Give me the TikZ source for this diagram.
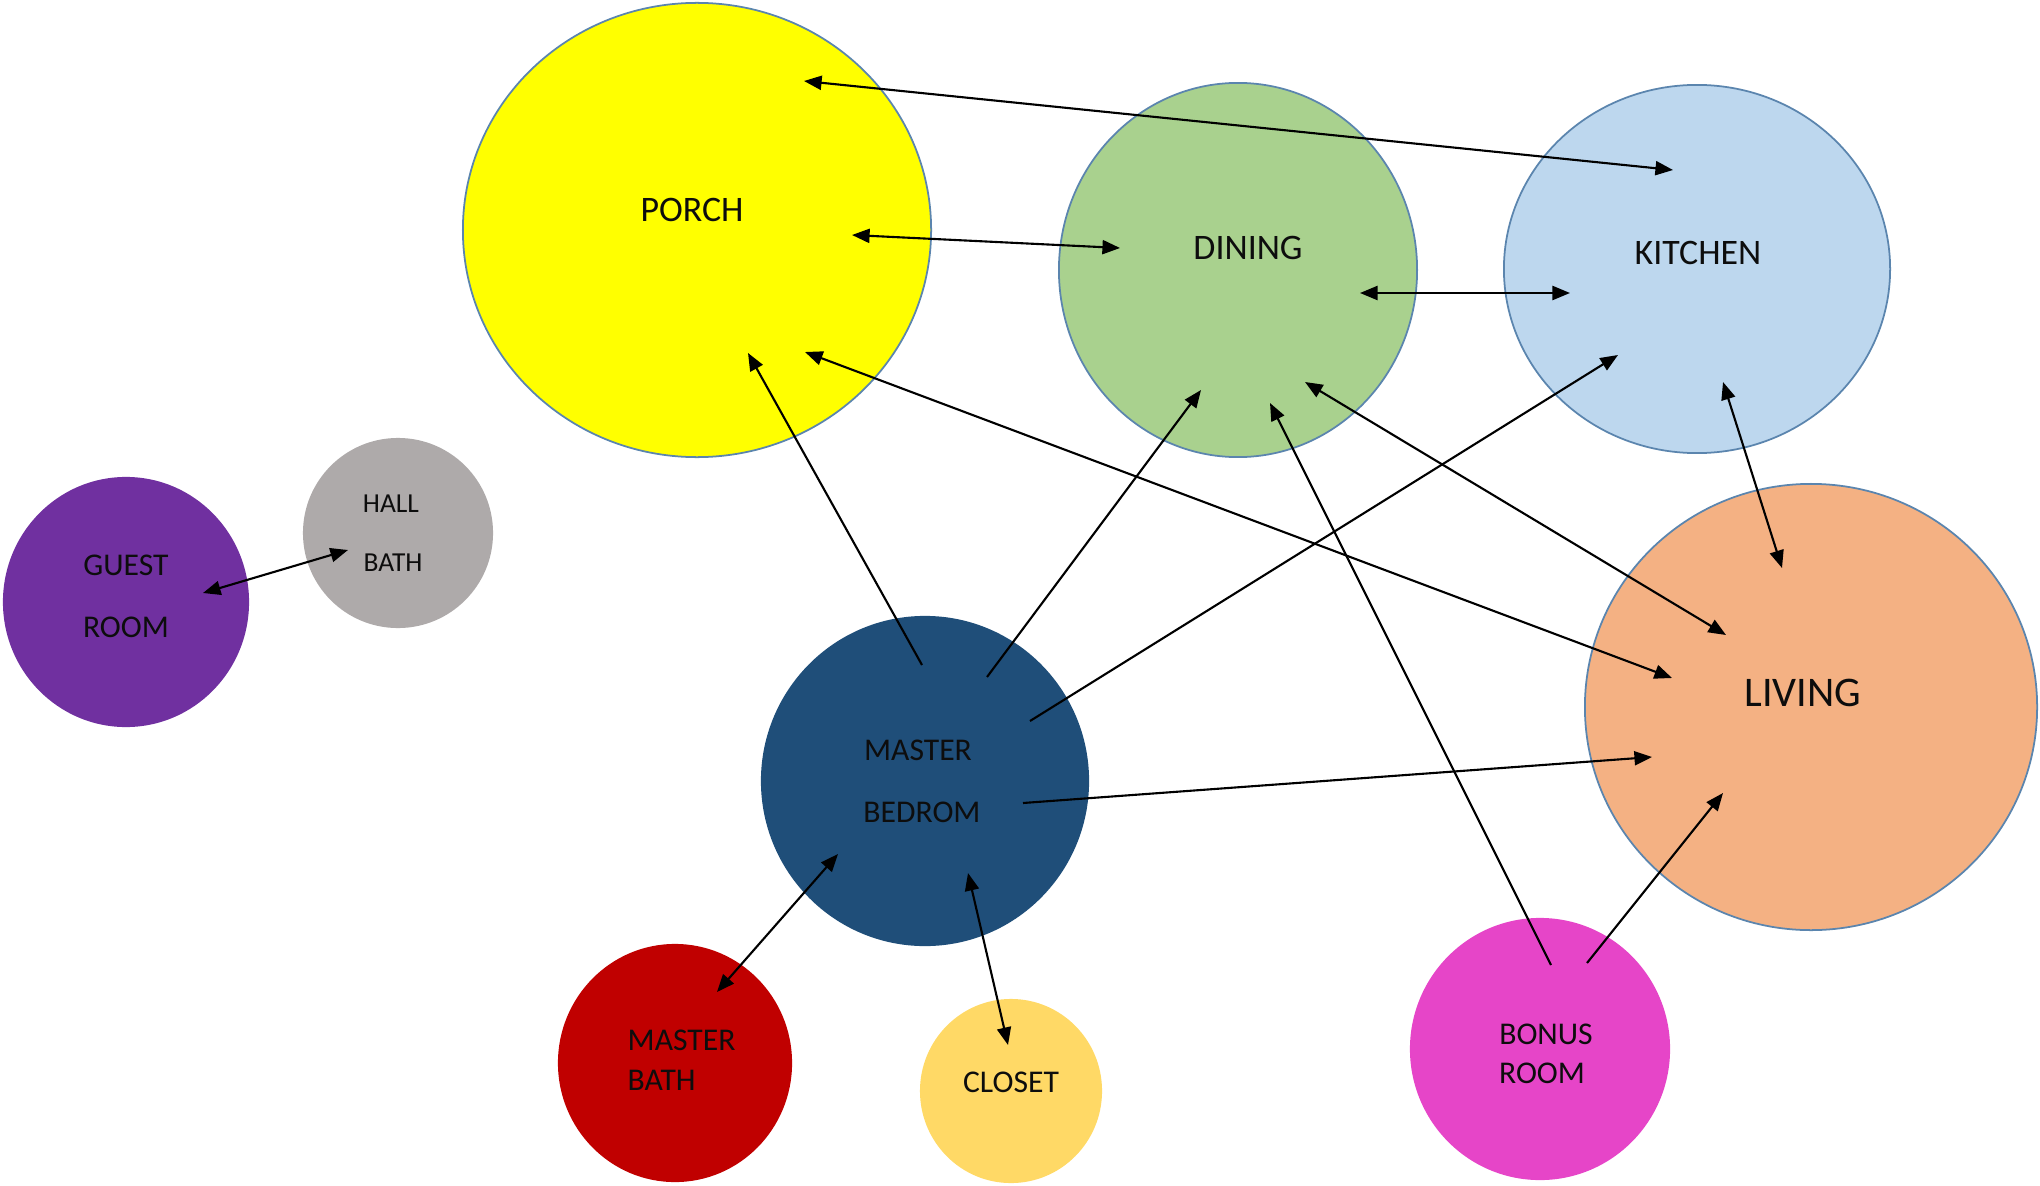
\documentclass[tikz,border=0pt]{standalone}
\usepackage{fontspec}
\setmainfont{Carlito}
\usetikzlibrary{shapes.geometric,arrows.meta}
\definecolor{porchc}{HTML}{FFFF00}
\definecolor{diningc}{HTML}{A9D18E}
\definecolor{kitchenc}{HTML}{BDD7EE}
\definecolor{livingc}{HTML}{F4B183}
\definecolor{guestc}{HTML}{7030A0}
\definecolor{hallc}{HTML}{AEAAAA}
\definecolor{bedc}{HTML}{1F4E79}
\definecolor{mbathc}{HTML}{C00000}
\definecolor{closetc}{HTML}{FFD966}
\definecolor{bonusc}{HTML}{E645C8}
\definecolor{rimc}{HTML}{5B85AE}
\definecolor{txtc}{HTML}{0D0D0D}
\begin{document}
\begin{tikzpicture}[x=0.01cm,y=-0.01cm,
  room/.style={ellipse,inner sep=0pt,draw=none},
  rim/.style={draw=rimc,line width=0.5pt},
  lblbig/.style={inner sep=0pt,text=txtc,font=\fontsize{10.2}{12}\selectfont},
  lblhuge/.style={inner sep=0pt,text=txtc,font=\fontsize{12}{14}\selectfont},
  lblmid/.style={inner sep=0pt,text=txtc,font=\fontsize{9}{11}\selectfont},
  lblsmall/.style={inner sep=0pt,text=txtc,font=\fontsize{7.8}{9}\selectfont},
  onehead/.style={line width=0.6pt,-{Triangle[length=5pt,width=4pt]}},
  twohead/.style={line width=0.6pt,{Triangle[length=5pt,width=4pt]}-{Triangle[length=5pt,width=4pt]}}]
\useasboundingbox (0,0) rectangle (2040,1185);
% rooms
\node[room,rim,fill=porchc,minimum width=4.68cm,minimum height=4.54cm] (porch) at (697,230) {};
\node[room,rim,fill=diningc,minimum width=3.58cm,minimum height=3.74cm] (dining) at (1238,270) {};
\node[room,rim,fill=kitchenc,minimum width=3.86cm,minimum height=3.68cm] (kitchen) at (1697,269) {};
\node[room,rim,fill=livingc,minimum width=4.52cm,minimum height=4.46cm] (living) at (1811,707) {};
\node[room,fill=guestc,minimum width=2.46cm,minimum height=2.50cm] (guest) at (126,602) {};
\node[room,fill=hallc,minimum width=1.90cm,minimum height=1.90cm] (hall) at (398,533) {};
\node[room,fill=bedc,minimum width=3.28cm,minimum height=3.30cm] (bed) at (925,781) {};
\node[room,fill=mbathc,minimum width=2.34cm,minimum height=2.38cm] (mbath) at (675,1063) {};
\node[room,fill=closetc,minimum width=1.82cm,minimum height=1.84cm] (closet) at (1011,1091) {};
\node[room,fill=bonusc,minimum width=2.60cm,minimum height=2.62cm] (bonus) at (1540,1049) {};
% connector end points
\coordinate (pk1) at (804,81);   \coordinate (pk2) at (1673,170);
\coordinate (pd1) at (852,235);  \coordinate (pd2) at (1120,248);
\coordinate (dk1) at (1360,293); \coordinate (dk2) at (1570,293);
\coordinate (kl1) at (1723,382); \coordinate (kl2) at (1782,568);
\coordinate (bp1) at (922,665);  \coordinate (bp2) at (748,353);
\coordinate (pl1) at (805,352);  \coordinate (pl2) at (1672,678);
\coordinate (bd1) at (987,677);  \coordinate (bd2) at (1201,390);
\coordinate (bk1) at (1030,721); \coordinate (bk2) at (1618,355);
\coordinate (dl1) at (1305,382); \coordinate (dl2) at (1726,635);
\coordinate (xd1) at (1551,965); \coordinate (xd2) at (1270,403);
\coordinate (xl1) at (1587,963); \coordinate (xl2) at (1723,793);
\coordinate (bl1) at (1023,803); \coordinate (bl2) at (1652,757);
\coordinate (bm1) at (838,854);  \coordinate (bm2) at (717,992);
\coordinate (bc1) at (968,873);  \coordinate (bc2) at (1008,1045);
\coordinate (gh1) at (203,593);  \coordinate (gh2) at (348,550);
% connectors
\draw[twohead] (pk1) -- (pk2);
\draw[twohead] (pd1) -- (pd2);
\draw[twohead] (dk1) -- (dk2);
\draw[twohead] (kl1) -- (kl2);
\draw[onehead] (bp1) -- (bp2);
\draw[twohead] (pl1) -- (pl2);
\draw[onehead] (bd1) -- (bd2);
\draw[onehead] (bk1) -- (bk2);
\draw[twohead] (dl1) -- (dl2);
\draw[onehead] (xd1) -- (xd2);
\draw[onehead] (xl1) -- (xl2);
\draw[onehead] (bl1) -- (bl2);
\draw[twohead] (bm1) -- (bm2);
\draw[twohead] (bc1) -- (bc2);
\draw[twohead] (gh1) -- (gh2);
% labels
\node[lblbig] (porchL) at (692,210) {PORCH};
\node[lblbig] (diningL) at (1248,248) {DINING};
\node[lblbig] (kitchenL) at (1698,253) {KITCHEN};
\node[lblhuge] (livingL) at (1803,693) {LIVING};
\node[lblmid] (guestL1) at (126,565) {GUEST};
\node[lblmid] (guestL2) at (126,627) {ROOM};
\node[lblsmall] (hallL1) at (391,504) {HALL};
\node[lblsmall] (hallL2) at (393,563) {BATH};
\node[lblmid] (bedL1) at (918,750) {MASTER};
\node[lblmid] (bedL2) at (922,812) {BEDROM};
\node[lblmid,anchor=west] (mbathL1) at (627,1040) {MASTER};
\node[lblmid,anchor=west] (mbathL2) at (627,1080) {BATH};
\node[lblmid] (closetL) at (1011,1082) {CLOSET};
\node[lblmid] (bonusL1) at (1546,1034) {BONUS};
\node[lblmid] (bonusL2) at (1542,1073) {ROOM};
\end{tikzpicture}
\end{document}
